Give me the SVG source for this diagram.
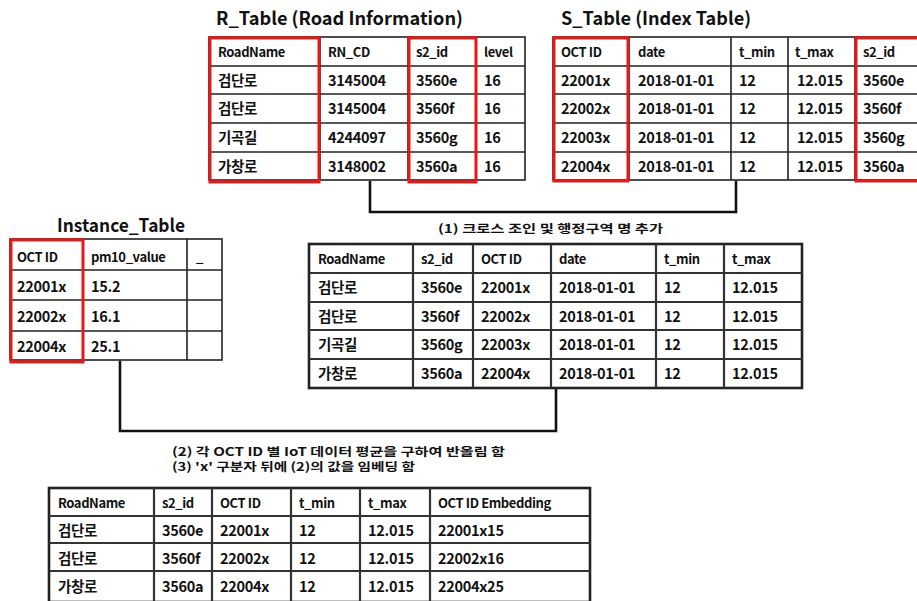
<svg xmlns="http://www.w3.org/2000/svg" width="917" height="601" viewBox="0 0 917 601">
  <style>
    text { font-family: "Noto Sans CJK KR", "Liberation Sans", sans-serif; fill: #111; font-weight: 700; }
    .title { font-size: 18px; }
    .h { font-size: 13px; letter-spacing: -0.4px; }
    .c { font-size: 14.5px; letter-spacing: -0.3px; }
    .note { font-size: 11.5px; }
    .grid { fill: #fff; stroke: #222; stroke-width: 1.6; }
    .ln { stroke: #222; stroke-width: 1.6; }
    .ln2 { stroke: #333; stroke-width: 2.2; }
    .hl { fill: none; stroke: #e81818; stroke-width: 3; }
    .conn { fill: none; stroke: #111; stroke-width: 2.6; }
  </style>

  <!-- Connectors -->
  <g id="connectors">
    <polyline class="conn" points="370,181 370,212 736,212 736,181"/>
    <polyline class="conn" points="120,361 120,431 556,431 556,389"/>
  </g>

  <!-- R_Table -->
  <g id="r_table">
    <text class="title" x="216" y="25" textLength="247" lengthAdjust="spacingAndGlyphs">R_Table (Road Information)</text>
    <rect class="grid" x="209" y="37" width="316" height="143"/>
    <g class="ln">
      <line x1="320" y1="37" x2="320" y2="180"/>
      <line x1="408" y1="37" x2="408" y2="180"/>
      <line x1="476" y1="37" x2="476" y2="180"/>
      <line x1="209" y1="66" x2="525" y2="66"/>
      <line x1="209" y1="94" x2="525" y2="94"/>
      <line x1="209" y1="123" x2="525" y2="123"/>
      <line x1="209" y1="152" x2="525" y2="152"/>
    </g>
    <text class="h" x="218" y="57">RoadName</text>
    <text class="h" x="328" y="57">RN_CD</text>
    <text class="h" x="416" y="57">s2_id</text>
    <text class="h" x="484" y="57">level</text>
    <text class="c" x="218" y="86">검단로</text>
    <text class="c" x="328" y="86">3145004</text>
    <text class="c" x="416" y="86">3560e</text>
    <text class="c" x="484" y="86">16</text>
    <text class="c" x="218" y="114">검단로</text>
    <text class="c" x="328" y="114">3145004</text>
    <text class="c" x="416" y="114">3560f</text>
    <text class="c" x="484" y="114">16</text>
    <text class="c" x="218" y="143">기곡길</text>
    <text class="c" x="328" y="143">4244097</text>
    <text class="c" x="416" y="143">3560g</text>
    <text class="c" x="484" y="143">16</text>
    <text class="c" x="218" y="172">가창로</text>
    <text class="c" x="328" y="172">3148002</text>
    <text class="c" x="416" y="172">3560a</text>
    <text class="c" x="484" y="172">16</text>
    <rect class="hl" x="210" y="38" width="109" height="144"/>
    <rect class="hl" x="409" y="38" width="67" height="144"/>
  </g>

  <!-- S_Table -->
  <g id="s_table">
    <text class="title" x="561" y="25" textLength="190" lengthAdjust="spacingAndGlyphs">S_Table (Index Table)</text>
    <rect class="grid" x="553" y="37" width="380" height="143"/>
    <g class="ln">
      <line x1="629" y1="37" x2="629" y2="180"/>
      <line x1="731" y1="37" x2="731" y2="180"/>
      <line x1="788" y1="37" x2="788" y2="180"/>
      <line x1="855" y1="37" x2="855" y2="180"/>
      <line x1="553" y1="66" x2="917" y2="66"/>
      <line x1="553" y1="94" x2="917" y2="94"/>
      <line x1="553" y1="123" x2="917" y2="123"/>
      <line x1="553" y1="152" x2="917" y2="152"/>
    </g>
    <text class="h" x="561" y="57">OCT ID</text>
    <text class="h" x="638" y="57">date</text>
    <text class="h" x="739" y="57">t_min</text>
    <text class="h" x="795" y="57">t_max</text>
    <text class="h" x="863" y="57">s2_id</text>
    <text class="c" x="561" y="86">22001x</text>
    <text class="c" x="638" y="86">2018-01-01</text>
    <text class="c" x="739" y="86">12</text>
    <text class="c" x="797" y="86">12.015</text>
    <text class="c" x="863" y="86">3560e</text>
    <text class="c" x="561" y="114">22002x</text>
    <text class="c" x="638" y="114">2018-01-01</text>
    <text class="c" x="739" y="114">12</text>
    <text class="c" x="797" y="114">12.015</text>
    <text class="c" x="863" y="114">3560f</text>
    <text class="c" x="561" y="143">22003x</text>
    <text class="c" x="638" y="143">2018-01-01</text>
    <text class="c" x="739" y="143">12</text>
    <text class="c" x="797" y="143">12.015</text>
    <text class="c" x="863" y="143">3560g</text>
    <text class="c" x="561" y="172">22004x</text>
    <text class="c" x="638" y="172">2018-01-01</text>
    <text class="c" x="739" y="172">12</text>
    <text class="c" x="797" y="172">12.015</text>
    <text class="c" x="863" y="172">3560a</text>
    <rect class="hl" x="554" y="38" width="74" height="143"/>
    <rect class="hl" x="856" y="38" width="70" height="143"/>
  </g>

  <!-- Instance_Table -->
  <g id="instance_table">
    <text class="title" x="57" y="232" textLength="128" lengthAdjust="spacingAndGlyphs">Instance_Table</text>
    <rect class="grid" x="10" y="239" width="212" height="121"/>
    <g class="ln">
      <line x1="83" y1="239" x2="83" y2="360"/>
      <line x1="187" y1="239" x2="187" y2="360"/>
      <line x1="10" y1="270" x2="222" y2="270"/>
      <line x1="10" y1="300" x2="222" y2="300"/>
      <line x1="10" y1="331" x2="222" y2="331"/>
    </g>
    <text class="h" x="17" y="262">OCT ID</text>
    <text class="h" x="91" y="262">pm10_value</text>
    <text class="h" x="196" y="262">_</text>
    <text class="c" x="17" y="292">22001x</text>
    <text class="c" x="91" y="292">15.2</text>
    <text class="c" x="17" y="322">22002x</text>
    <text class="c" x="91" y="322">16.1</text>
    <text class="c" x="17" y="352">22004x</text>
    <text class="c" x="91" y="352">25.1</text>
    <rect class="hl" x="11" y="240" width="72" height="122"/>
  </g>

  <!-- Joined table (step 1) -->
  <g id="joined_table">
    <text class="note" x="438" y="233" textLength="225" lengthAdjust="spacingAndGlyphs">(1) 크로스 조인 및 행정구역 명 추가</text>
    <rect x="309" y="244" width="493" height="144" fill="#fff" stroke="#222" stroke-width="2.6"/>
    <g class="ln2">
      <line x1="413" y1="244" x2="413" y2="388"/>
      <line x1="473" y1="244" x2="473" y2="388"/>
      <line x1="551" y1="244" x2="551" y2="388"/>
      <line x1="656" y1="244" x2="656" y2="388"/>
      <line x1="724" y1="244" x2="724" y2="388"/>
      <line x1="309" y1="273" x2="802" y2="273"/>
      <line x1="309" y1="302" x2="802" y2="302"/>
      <line x1="309" y1="330" x2="802" y2="330"/>
      <line x1="309" y1="359" x2="802" y2="359"/>
    </g>
    <text class="h" x="318" y="264">RoadName</text>
    <text class="h" x="421" y="264">s2_id</text>
    <text class="h" x="481" y="264">OCT ID</text>
    <text class="h" x="559" y="264">date</text>
    <text class="h" x="664" y="264">t_min</text>
    <text class="h" x="732" y="264">t_max</text>
    <text class="c" x="318" y="293">검단로</text>
    <text class="c" x="421" y="293">3560e</text>
    <text class="c" x="481" y="293">22001x</text>
    <text class="c" x="559" y="293">2018-01-01</text>
    <text class="c" x="664" y="293">12</text>
    <text class="c" x="732" y="293">12.015</text>
    <text class="c" x="318" y="322">검단로</text>
    <text class="c" x="421" y="322">3560f</text>
    <text class="c" x="481" y="322">22002x</text>
    <text class="c" x="559" y="322">2018-01-01</text>
    <text class="c" x="664" y="322">12</text>
    <text class="c" x="732" y="322">12.015</text>
    <text class="c" x="318" y="350">기곡길</text>
    <text class="c" x="421" y="350">3560g</text>
    <text class="c" x="481" y="350">22003x</text>
    <text class="c" x="559" y="350">2018-01-01</text>
    <text class="c" x="664" y="350">12</text>
    <text class="c" x="732" y="350">12.015</text>
    <text class="c" x="318" y="379">가창로</text>
    <text class="c" x="421" y="379">3560a</text>
    <text class="c" x="481" y="379">22004x</text>
    <text class="c" x="559" y="379">2018-01-01</text>
    <text class="c" x="664" y="379">12</text>
    <text class="c" x="732" y="379">12.015</text>
  </g>

  <!-- Embedded result table (steps 2-3) -->
  <g id="embedding_table">
    <text class="note" x="172" y="456" textLength="333" lengthAdjust="spacingAndGlyphs">(2) 각 OCT ID 별 IoT 데이터 평균을 구하여 반올림 함</text>
    <text class="note" x="172" y="471" textLength="243" lengthAdjust="spacingAndGlyphs">(3) 'x' 구분자 뒤에 (2)의 값을 임베딩 함</text>
    <rect x="49" y="488" width="541" height="114" fill="#fff" stroke="#222" stroke-width="2.6"/>
    <g class="ln2">
      <line x1="154" y1="488" x2="154" y2="601"/>
      <line x1="212" y1="488" x2="212" y2="601"/>
      <line x1="291" y1="488" x2="291" y2="601"/>
      <line x1="360" y1="488" x2="360" y2="601"/>
      <line x1="430" y1="488" x2="430" y2="601"/>
      <line x1="49" y1="516" x2="590" y2="516"/>
      <line x1="49" y1="543" x2="590" y2="543"/>
      <line x1="49" y1="571" x2="590" y2="571"/>
    </g>
    <text class="h" x="58" y="508">RoadName</text>
    <text class="h" x="162" y="508">s2_id</text>
    <text class="h" x="220" y="508">OCT ID</text>
    <text class="h" x="299" y="508">t_min</text>
    <text class="h" x="368" y="508">t_max</text>
    <text class="h" x="438" y="508">OCT ID Embedding</text>
    <text class="c" x="58" y="536">검단로</text>
    <text class="c" x="162" y="536">3560e</text>
    <text class="c" x="220" y="536">22001x</text>
    <text class="c" x="299" y="536">12</text>
    <text class="c" x="368" y="536">12.015</text>
    <text class="c" x="438" y="536">22001x15</text>
    <text class="c" x="58" y="564">검단로</text>
    <text class="c" x="162" y="564">3560f</text>
    <text class="c" x="220" y="564">22002x</text>
    <text class="c" x="299" y="564">12</text>
    <text class="c" x="368" y="564">12.015</text>
    <text class="c" x="438" y="564">22002x16</text>
    <text class="c" x="58" y="592">가창로</text>
    <text class="c" x="162" y="592">3560a</text>
    <text class="c" x="220" y="592">22004x</text>
    <text class="c" x="299" y="592">12</text>
    <text class="c" x="368" y="592">12.015</text>
    <text class="c" x="438" y="592">22004x25</text>
  </g>
</svg>
